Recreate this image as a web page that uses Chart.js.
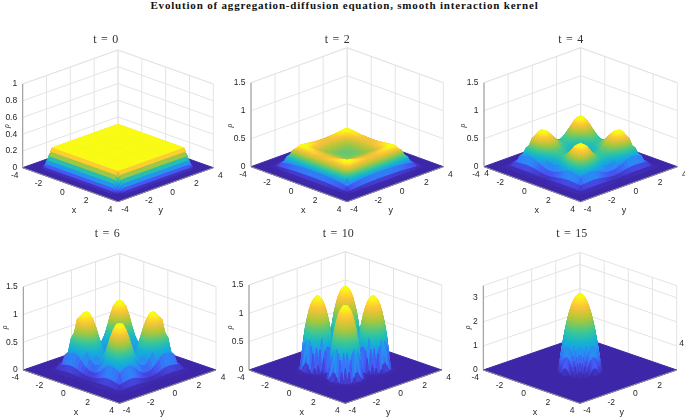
<!DOCTYPE html>
<html>
<head>
<meta charset="utf-8">
<title>Evolution of aggregation-diffusion equation</title>
<script src="https://cdn.jsdelivr.net/npm/chart.js@4"></script>
<style>
    html, body { margin: 0; padding: 0; background: #fff; overflow: hidden; }
    #page { position: relative; width: 685px; height: 417px; }
    #mainTitle {
        position: absolute; left: 0; top: 0; width: 689px; text-align: center;
        font: bold 11px "Liberation Serif", serif; letter-spacing: 0.81px; color: #111; line-height: 10px;
    }
    canvas { position: absolute; }
</style>
</head>
<body>
<div id="page"><div id="mainTitle">Evolution of aggregation-diffusion equation, smooth interaction kernel</div></div>
<script>
// Axis ticks
const xTicks = [-4, -2, 0, 2, 4];
const yTicks = [-4, -2, 0, 2, 4];
const zTicksSmall = [0, 0.2, 0.4, 0.6, 0.8, 1];
const zTicksMid = [0, 0.5, 1, 1.5];
const zTicksTall = [0, 1, 2, 3];

// Heights for one octant of the square (|x| >= |y|),
// row = larger coordinate, column = smaller one. Missing entries are zero.
const coordsT0 = [0, 1.4, 2.7, 2.78, 2.88, 2.98, 3.08, 3.16, 3.24, 3.32, 4];
const rhoT0 = [
    [.235],
    [.235, .235],
    [.235, .235, .235],
    [.235, .235, .235, .225],
    [.19, .19, .19, .175, .15],
    [.14, .14, .14, .125, .105, .08],
    [.095, .095, .095, .085, .065, .045, .03],
    [.05, .05, .05, .04, .03, .02, .01, .005],
    [.015, .015, .015, .01, .006, .004, .002]
];

const coordsMid = [0, .25, .5, .75, 1, 1.25, 1.5, 1.75, 2, 2.25, 2.5, 2.75, 3, 3.25, 3.5, 4];
const rhoT2 = [
    [.235],
    [.237, .238],
    [.243, .244, .245],
    [.255, .255, .256, .257],
    [.27, .27, .271, .273, .275],
    [.29, .29, .292, .295, .3, .305],
    [.31, .311, .315, .32, .328, .337, .345],
    [.322, .325, .33, .338, .35, .362, .375, .385],
    [.325, .33, .337, .345, .353, .361, .369, .375, .378],
    [.3, .3, .302, .304, .306, .306, .305, .303, .302, .3],
    [.225, .225, .225, .224, .222, .22, .216, .21, .2, .19, .18],
    [.125, .125, .124, .122, .12, .117, .112, .105, .097, .088, .078, .07],
    [.045, .045, .044, .043, .042, .04, .037, .033, .029, .024, .019, .015, .012],
    [.008, .008, .008, .008, .007, .007, .006, .005, .004, .003, .002, .001]
];
const rhoT4 = [
    [.25],
    [.255, .26],
    [.27, .278, .29],
    [.29, .3, .32, .35],
    [.315, .33, .36, .4, .45],
    [.34, .355, .395, .45, .52, .59],
    [.35, .36, .39, .45, .53, .61, .645],
    [.34, .35, .385, .44, .52, .6, .64, .63],
    [.29, .3, .33, .38, .44, .5, .54, .54, .51],
    [.2, .21, .24, .27, .31, .35, .38, .38, .36, .34],
    [.11, .115, .13, .155, .18, .21, .23, .235, .22, .21, .2],
    [.045, .05, .06, .07, .085, .095, .1, .105, .1, .095, .09, .09],
    [.01, .01, .015, .02, .02, .025, .025, .025, .025, .025, .025, .02, .02]
];
const rhoT6 = [
    [.15],
    [.155, .17],
    [.17, .19, .24],
    [.21, .24, .3, .42],
    [.27, .31, .4, .58, .78],
    [.35, .39, .49, .68, .9, 1.02],
    [.37, .41, .51, .7, .92, 1.03, 1.03],
    [.33, .36, .45, .61, .8, .93, .95, .92],
    [.22, .25, .31, .41, .54, .65, .67, .66, .58],
    [.12, .13, .16, .21, .27, .33, .35, .34, .31, .28],
    [.05, .055, .07, .085, .11, .13, .14, .135, .125, .11, .1],
    [.012, .012, .018, .022, .03, .035, .035, .035, .03, .025, .02, .02]
];

const coordsT10 = [0, .15, .3, .45, .6, .75, .9, 1.05, 1.2, 1.35, 1.5, 1.65, 1.8, 1.95, 2.1, 2.25, 2.4, 4];
const rhoT10 = [
    [.04],
    [.03, .03],
    [.03, .03, .03],
    [.03, .03, .03, .08],
    [.03, .03, .04, .39, .66],
    [.03, .03, .24, .59, .82, .97],
    [.03, .04, .4, .71, .92, 1.08, 1.18],
    [.03, .05, .46, .77, .98, 1.14, 1.24, 1.29],
    [.03, .05, .47, .78, .99, 1.15, 1.25, 1.3, 1.31],
    [.03, .04, .43, .73, .95, 1.11, 1.21, 1.26, 1.27, 1.23],
    [.03, .03, .29, .63, .86, 1.01, 1.12, 1.18, 1.18, 1.15, 1.06],
    [.03, .03, .09, .45, .7, .87, .98, 1.04, 1.05, 1.01, .91, .77],
    [.02, .03, .03, .18, .47, .67, .79, .85, .86, .81, .72, .55, .29],
    [.02, .02, .03, .03, .13, .38, .5, .59, .6, .54, .43, .22, .03, .02],
    [.02, .02, .02, .02, .03, .04, .1, .18, .19, .13, .04, .03, .02, .02, .01],
    [0, 0, 0, 0, .01, .02, .02, .03, .03, .03, .02, .01, .01, .01]
];

const coordsT15 = [0, .1, .2, .3, .4, .5, .6, .7, .8, .9, 1, 1.1, 1.2, 1.3, 4];
const rhoT15 = [
    [3.17],
    [3.15, 3.13],
    [3.09, 3.07, 3.01],
    [2.99, 2.97, 2.91, 2.8],
    [2.85, 2.82, 2.76, 2.66, 2.52],
    [2.66, 2.64, 2.58, 2.48, 2.34, 2.15],
    [2.44, 2.42, 2.36, 2.26, 2.11, 1.93, 1.71],
    [2.18, 2.15, 2.09, 1.99, 1.85, 1.67, 1.44, 1.18],
    [1.87, 1.85, 1.79, 1.69, 1.55, 1.36, 1.14, .88, .57],
    [1.53, 1.51, 1.44, 1.34, 1.2, 1.02, .79, .53, .23],
    [1.14, 1.12, 1.06, .96, .82, .63, .41, .15],
    [.71, .69, .63, .53, .39, .21],
    [.25, .23, .17, .06]
];

// Page placement of each panel, in pixels. t = 0 keeps flat cells, its side shows hard colour bands.
const panels = [
    { title: 't = 0', coords: coordsT0, rho: rhoT0, zTicks: zTicksSmall, zMax: 1, box: [0, 14, 229, 202], flat: true,
      left: 22.7, right: 213.3, floor: 167.7, front: 201.7, top: 84, titleAt: [105.7, 40], xAt: [74, 210.7], yAt: [160.7, 210.7], rhoAt: [7.3, 126] },
    { title: 't = 2', coords: coordsMid, rho: rhoT2, zTicks: zTicksMid, zMax: 1.5, box: [228, 14, 229, 202],
      left: 251, right: 443.3, floor: 166.7, front: 201.7, top: 82.7, titleAt: [337.3, 40], xAt: [303.3, 211], yAt: [390.7, 211], rhoAt: [230, 125.7] },
    { title: 't = 4', coords: coordsMid, rho: rhoT4, zTicks: zTicksMid, zMax: 1.5, box: [456, 14, 229, 202],
      left: 484, right: 677.3, floor: 166.7, front: 201.7, top: 82.7, titleAt: [570.7, 40], xAt: [536.7, 211], yAt: [624, 211], rhoAt: [463.3, 125.7],
      extra: [['4', 486.7, 174]] },
    { title: 't = 6', coords: coordsMid, rho: rhoT6, zTicks: zTicksMid, zMax: 1.5, box: [0, 216, 229, 201],
      left: 23.3, right: 216, floor: 370, front: 403.3, top: 286.7, titleAt: [107.3, 234.3], xAt: [76, 412.7], yAt: [162.3, 412.7], rhoAt: [5, 327.3] },
    { title: 't = 10', coords: coordsT10, rho: rhoT10, zTicks: zTicksMid, zMax: 1.5, box: [228, 216, 229, 201],
      left: 249, right: 441.7, floor: 370, front: 403.3, top: 285, titleAt: [338.3, 234.3], xAt: [301.7, 412.7], yAt: [388.3, 412.7], rhoAt: [230, 327.3] },
    { title: 't = 15', coords: coordsT15, rho: rhoT15, zTicks: zTicksTall, zMax: 3.5, box: [456, 216, 229, 201],
      left: 483.3, right: 676.7, floor: 370, front: 403.3, top: 285.7, titleAt: [571.7, 234.3], xAt: [535, 412.7], yAt: [621.7, 412.7], rhoAt: [468.3, 327.3],
      lastYTickAt: [681.7, 343.3] }
];

const parulaStops = [
    [0, 62, 38, 168], [.125, 72, 82, 244], [.25, 45, 135, 247], [.42, 18, 177, 214],
    [.56, 55, 200, 151], [.72, 171, 199, 57], [.88, 254, 195, 56], [1, 249, 251, 21]
];

function parula(t) {
    t = Math.max(0, Math.min(1, t));
    let i = 0;
    while (i < parulaStops.length - 2 && t > parulaStops[i + 1][0]) i++;
    const a = parulaStops[i], b = parulaStops[i + 1];
    const f = (t - a[0]) / (b[0] - a[0]);
    const c = [1, 2, 3].map(k => Math.round(a[k] + (b[k] - a[k]) * f));
    return 'rgb(' + c.join(',') + ')';
}

function buildChart(panel) {
    const [boxX, boxY, boxW, boxH] = panel.box;
    const canvas = document.createElement('canvas');
    canvas.width = boxW;
    canvas.height = boxH;
    canvas.style.left = boxX + 'px';
    canvas.style.top = boxY + 'px';
    document.getElementById('page').appendChild(canvas);
    const gctx = canvas.getContext('2d');

    const depth = panel.front - panel.floor;
    const height = panel.floor - panel.top;
    const project = (x, y, z) => ({ x: x + y, y: -(x - y) / 8 * depth + z / panel.zMax * height });

    const xMin = (boxX - panel.left) / (panel.right - panel.left) * 16 - 8;
    const xMax = (boxX + boxW - panel.left) / (panel.right - panel.left) * 16 - 8;
    const yMin = panel.floor - (boxY + boxH);
    const yMax = panel.floor - boxY;
    const toCanvas = p => [(p.x - xMin) / (xMax - xMin) * boxW, (yMax - p.y) / (yMax - yMin) * boxH];

    const segment = (points, color, width) => ({
        data: points, showLine: true, borderColor: color, borderWidth: width,
        pointRadius: 0, fill: false, tension: 0
    });
    const patch = (points, color) => ({
        data: points.concat([points[0]]), showLine: true, borderColor: color, borderWidth: 1,
        backgroundColor: color, pointRadius: 0, fill: 'shape', tension: 0
    });

    const gridColor = '#e4e4e4';
    const axisColor = '#949494';
    const back = [];

    // Back walls
    xTicks.forEach(t => {
        back.push(segment([project(-4, t, 0), project(-4, t, panel.zMax)], gridColor, 1));
        back.push(segment([project(t, 4, 0), project(t, 4, panel.zMax)], gridColor, 1));
    });
    panel.zTicks.concat([panel.zMax]).forEach(z => {
        back.push(segment([project(-4, -4, z), project(-4, 4, z), project(4, 4, z)], gridColor, 1));
    });

    // Floor, then surface cells from far to near
    back.push(patch([project(-4, -4, 0), project(-4, 4, 0), project(4, 4, 0), project(4, -4, 0)], parula(0)));

    const c = panel.coords;
    const axis = c.slice(1).reverse().map(v => -v).concat(c);
    const valueAt = (a, b) => {
        const i = c.indexOf(Math.abs(a)), j = c.indexOf(Math.abs(b));
        const row = panel.rho[Math.max(i, j)];
        return (row && row[Math.min(i, j)]) || 0;
    };
    const zTop = Math.max(...panel.rho.flat()) * (panel.flat ? 1 : 0.98);

    // Colour of a cell: runs with height across the cell, like interpolated shading.
    // Low cells stay flat, the foot of each hump shows the mesh in the original.
    const cellColor = (points, z) => {
        const mean = (z[0] + z[1] + z[2] + z[3]) / 4;
        const low = Math.min(...z), high = Math.max(...z);
        if (panel.flat || mean / zTop < 0.3 || high - low < zTop * 0.01) return parula(mean / zTop);
        const p = points.map(toCanvas);
        const ax = p[2][0] - p[0][0], ay = p[2][1] - p[0][1], az = z[2] - z[0];
        const bx = p[3][0] - p[1][0], by = p[3][1] - p[1][1], bz = z[3] - z[1];
        const det = ax * by - ay * bx;
        let gx = 0, gy = -(high - low) / Math.max(1, Math.abs(p[z.indexOf(high)][1] - p[z.indexOf(low)][1]));
        if (Math.abs(det) > 0.5) {
            gx = (az * by - ay * bz) / det;
            gy = (ax * bz - az * bx) / det;
        }
        const g2 = gx * gx + gy * gy;
        const atZ = v => [p[0][0] + gx * (v - z[0]) / g2, p[0][1] + gy * (v - z[0]) / g2];
        const from = atZ(low), to = atZ(high);
        const grad = gctx.createLinearGradient(from[0], from[1], to[0], to[1]);
        for (let s = 0; s <= 4; s++) grad.addColorStop(s / 4, parula((low + (high - low) * s / 4) / zTop));
        return grad;
    };

    const cells = [];
    for (let i = 0; i < axis.length - 1; i++) {
        for (let j = 0; j < axis.length - 1; j++) {
            const x0 = axis[i], x1 = axis[i + 1], y0 = axis[j], y1 = axis[j + 1];
            const z = [valueAt(x0, y0), valueAt(x1, y0), valueAt(x1, y1), valueAt(x0, y1)];
            if (z[0] + z[1] + z[2] + z[3] === 0) continue;
            const points = [project(x0, y0, z[0]), project(x1, y0, z[1]), project(x1, y1, z[2]), project(x0, y1, z[3])];
            cells.push({ depth: (x0 + x1) / 2 - (y0 + y1) / 2, points: points, color: cellColor(points, z) });
        }
    }
    cells.sort((a, b) => a.depth - b.depth);
    cells.forEach(cell => back.push(patch(cell.points, cell.color)));

    // Box edges and the z axis go on top
    back.push(segment([project(-4, -4, 0), project(4, -4, 0), project(4, 4, 0)], axisColor, 1));
    back.push(segment([project(-4, -4, 0), project(-4, -4, panel.zMax)], axisColor, 1));

    const panelText = {
        id: 'panelText',
        afterDraw(chart) {
            const ctx = chart.ctx;
            const sx = chart.scales.x, sy = chart.scales.y;
            const px = p => [sx.getPixelForValue(p.x), sy.getPixelForValue(p.y)];
            const put = (text, x, y) => ctx.fillText(text, x, y);
            ctx.save();
            ctx.textBaseline = 'middle';
            ctx.fillStyle = '#262626';
            ctx.font = '8.5px "Liberation Sans", sans-serif';
            ctx.textAlign = 'center';
            xTicks.forEach(t => {
                const [a, b] = px(project(t, -4, 0));
                put(String(t), a - 8, b + 7.5);
            });
            yTicks.forEach(t => {
                const [a, b] = px(project(4, t, 0));
                if (t === 4 && panel.lastYTickAt) {
                    put(String(t), panel.lastYTickAt[0] - boxX, panel.lastYTickAt[1] - boxY);
                } else {
                    put(String(t), a + 7, b + 7.5);
                }
            });
            (panel.extra || []).forEach(e => put(e[0], e[1] - boxX, e[2] - boxY));
            ctx.textAlign = 'right';
            panel.zTicks.forEach(z => {
                const [a, b] = px(project(-4, -4, z));
                put(String(z), a - 5.5, b);
            });

            ctx.textAlign = 'center';
            ctx.font = '9px "Liberation Sans", sans-serif';
            put('x', panel.xAt[0] - boxX, panel.xAt[1] - boxY);
            put('y', panel.yAt[0] - boxX, panel.yAt[1] - boxY);

            ctx.fillStyle = '#333';
            ctx.font = '12px "Liberation Serif", serif';
            ctx.wordSpacing = '1.5px';
            put(panel.title, panel.titleAt[0] - boxX, panel.titleAt[1] - boxY);
            ctx.wordSpacing = '0px';

            ctx.translate(panel.rhoAt[0] - boxX, panel.rhoAt[1] - boxY);
            ctx.rotate(-Math.PI / 2);
            ctx.fillStyle = '#262626';
            ctx.font = 'italic 8px "Liberation Serif", serif';
            put('\u03c1', 0, 0);
            ctx.restore();
        }
    };

    // The library draws the first dataset last, so hand them over near to far
    return new Chart(canvas, {
        type: 'scatter',
        data: { datasets: back.reverse() },
        plugins: [panelText],
        options: {
            responsive: false,
            animation: false,
            events: [],
            layout: { padding: 0 },
            plugins: { legend: { display: false }, tooltip: { enabled: false } },
            scales: {
                x: { type: 'linear', display: false, min: xMin, max: xMax },
                y: { type: 'linear', display: false, min: yMin, max: yMax }
            }
        }
    });
}

document.addEventListener('DOMContentLoaded', function () {
    panels.forEach(buildChart);
});
</script>
</body>
</html>
